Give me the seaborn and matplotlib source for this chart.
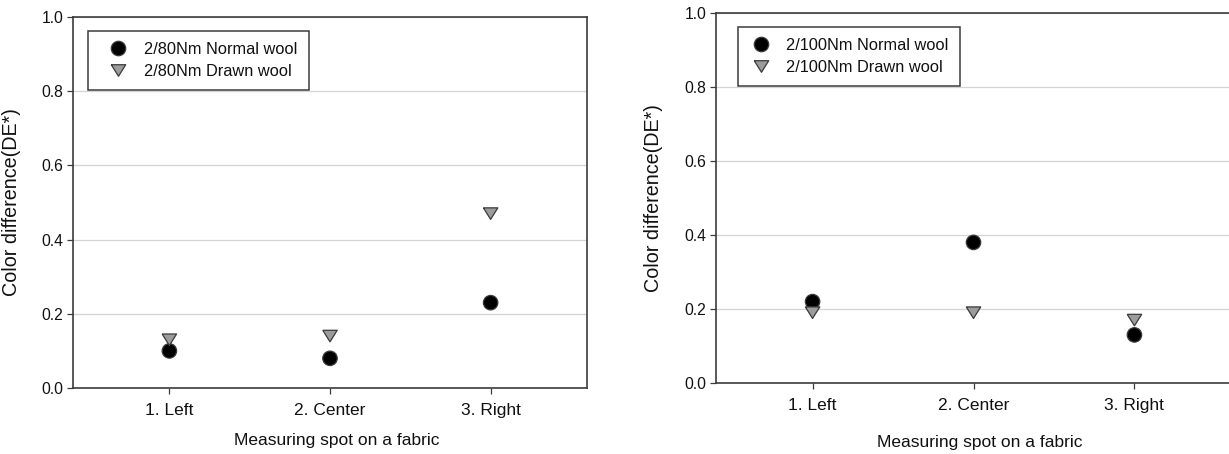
import numpy as np
import pandas as pd
import matplotlib
matplotlib.use("Agg")
import matplotlib.pyplot as plt
import seaborn as sns

# ---- data ----
spots = ["1. Left", "2. Center", "3. Right"]
left_normal = [0.10, 0.08, 0.23]
left_drawn = [0.13, 0.14, 0.47]
right_normal = [0.22, 0.38, 0.13]
right_drawn = [0.19, 0.19, 0.17]
left_series = ["2/80Nm Normal wool", "2/80Nm Drawn wool"]
right_series = ["2/100Nm Normal wool", "2/100Nm Drawn wool"]
y_ticks = [0.0, 0.2, 0.4, 0.6, 0.8, 1.0]
y_tick_labels = ["0.0", "0.2", "0.4", "0.6", "0.8", "1.0"]
x_label = "Measuring spot on a fabric"
y_label = "Color difference(DE*)"

sns.set_theme(style="white")
plt.rcParams["font.family"] = ["Liberation Sans", "DejaVu Sans"]

W, H = 1229, 454
fig = plt.figure(figsize=(W / 100, H / 100), dpi=100)
ax1 = fig.add_axes([73 / W, (H - 388) / H, 514 / W, 371 / H])
ax2 = fig.add_axes([716 / W, (H - 383) / H, 515 / W, 370 / H])

tri = [(-1.0, 0.8), (1.0, 0.8), (0.0, -0.8), (-1.0, 0.8)]
SPINE = "#3c3c3c"


def draw(ax, normal, drawn, names, leg_anchor, handlelength, textpad):
    df = pd.DataFrame({
        "spot": spots * 2,
        "value": list(normal) + list(drawn),
        "series": [names[0]] * len(spots) + [names[1]] * len(spots),
    })
    sns.scatterplot(
        data=df, x="spot", y="value", hue="series", style="series",
        palette={names[0]: "black", names[1]: "#9c9c9c"},
        markers={names[0]: "o", names[1]: tri},
        s=108, edgecolor="#3a3a3a", linewidth=0.9, ax=ax, zorder=3,
    )
    ax.set_xlim(-0.6, 2.6)
    ax.set_ylim(0, 1.0)
    ax.set_yticks(y_ticks)
    ax.set_yticklabels(y_tick_labels)
    ax.set_axisbelow(True)
    ax.yaxis.grid(True, color="#d4d4d4", linewidth=0.9)
    ax.xaxis.grid(False)
    for sp in ax.spines.values():
        sp.set_visible(True)
        sp.set_color(SPINE)
        sp.set_linewidth(1.2)
    ax.tick_params(axis="both", which="major", bottom=True, left=True,
                   direction="out", length=4, width=0.9, color=SPINE)
    ax.tick_params(axis="x", labelsize=12.5, pad=7, labelcolor="#111111")
    ax.tick_params(axis="y", labelsize=11.3, pad=3, labelcolor="#111111")
    ax.set_xlabel(x_label, fontsize=12.5, color="#111111")
    ax.set_ylabel(y_label, fontsize=14.2, color="#111111")

    handles, labels = ax.get_legend_handles_labels()
    leg = ax.legend(
        handles, labels, loc="upper left", bbox_to_anchor=leg_anchor,
        borderaxespad=0, frameon=True, fancybox=False, shadow=False,
        fontsize=11.8, handlelength=handlelength, handletextpad=textpad,
        labelspacing=0.42, borderpad=0.68, framealpha=1,
    )
    leg.get_frame().set_edgecolor(SPINE)
    leg.get_frame().set_linewidth(1.1)
    for t in leg.get_texts():
        t.set_color("#111111")


draw(ax1, left_normal, left_drawn, left_series, (15 / 514, (388 - 31) / 371), 2.3, 0.45)
draw(ax2, right_normal, right_drawn, right_series, (22 / 515, (383 - 27) / 370), 1.5, 0.75)

ax1.yaxis.set_label_coords((21 - 73) / 514, 0.5)
ax2.yaxis.set_label_coords((663 - 716) / 515, 0.5)
ax1.xaxis.set_label_coords((337 - 73) / 514, (388 - 441) / 371)
ax2.xaxis.set_label_coords((980 - 716) / 515, (383 - 442) / 370)
ax1.xaxis.label.set_va("center")
ax2.xaxis.label.set_va("center")

fig.savefig("out.png", dpi=100, facecolor="white")
